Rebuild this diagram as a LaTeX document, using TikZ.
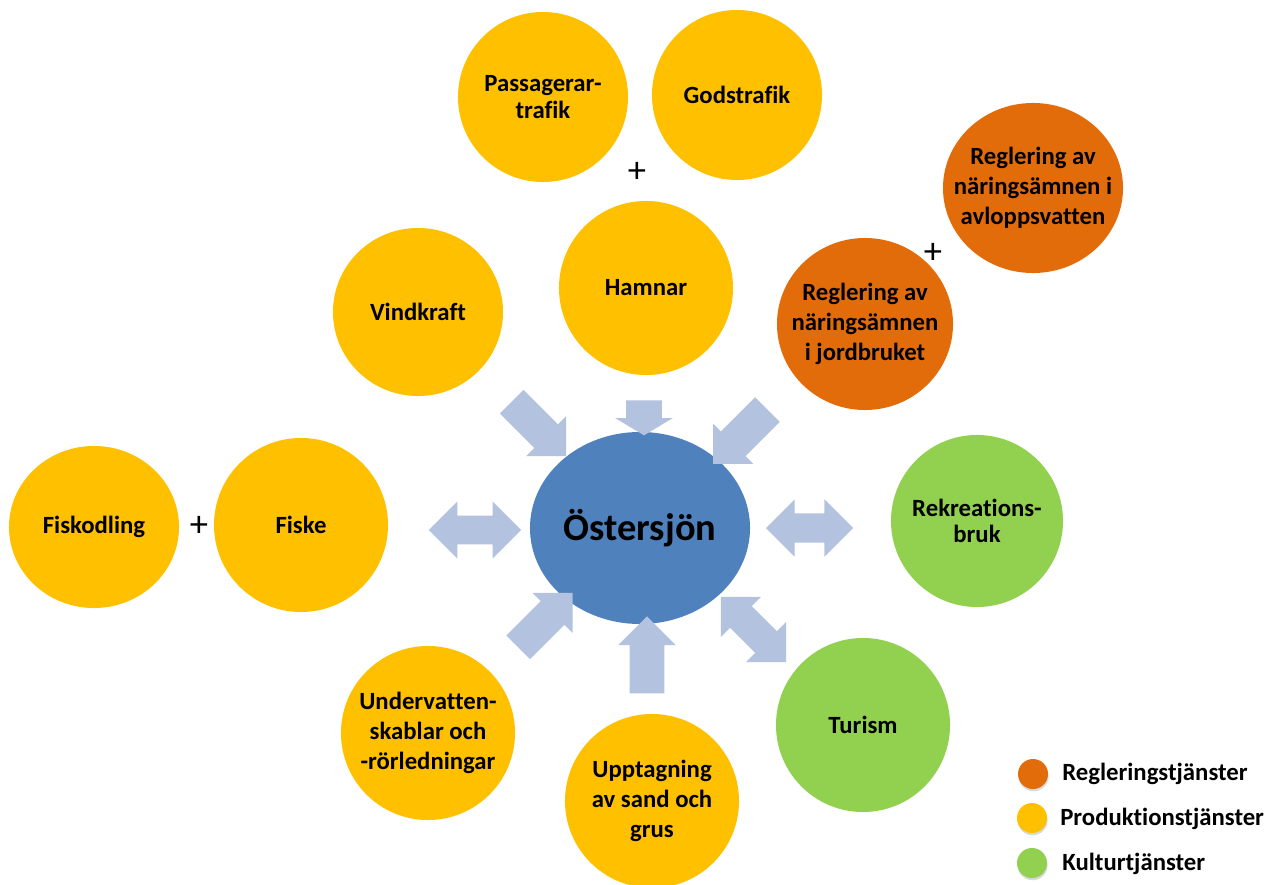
\documentclass[tikz,border=0pt]{standalone}
\usepackage{fontspec}
\setmainfont{Carlito}[Ligatures=NoCommon]
\usepackage{tikz}
\usetikzlibrary{positioning, shapes.geometric, shapes.arrows, shadows}

\definecolor{prodyellow}{HTML}{FFC000}
\definecolor{reglorange}{HTML}{E36C0A}
\definecolor{kultgreen}{HTML}{92D050}
\definecolor{seablue}{HTML}{4F81BD}
\definecolor{arrowblue}{HTML}{B3C2DE}

\tikzset{
  ball/.style={ellipse, inner sep=-0.5cm, align=center, text=black,
    font=\bfseries\fontsize{17.6}{21.4}\selectfont},
  twoline/.style={font=\bfseries\fontsize{17.6}{18.6}\selectfont},
  prod/.style={ball, fill=prodyellow},
  regl/.style={ball, fill=reglorange},
  kult/.style={ball, fill=kultgreen},
  plus/.style={inner sep=0pt, font=\fontsize{26}{26}\selectfont},
  inarrow/.style={single arrow, fill=arrowblue, inner xsep=0pt,
    single arrow tip angle=90},
  twoarrow/.style={double arrow, fill=arrowblue, inner xsep=0pt,
    double arrow tip angle=90},
  legdot/.style={circle, inner sep=0pt, minimum size=0.75cm,
    drop shadow={shadow xshift=0.4pt, shadow yshift=-1.6pt, opacity=0.3}},
  legtext/.style={anchor=west, inner sep=0pt,
    font=\bfseries\fontsize{17.6}{21.4}\selectfont}
}

\begin{document}
\begin{tikzpicture}[x=0.025cm, y=-0.025cm]

    \useasboundingbox[fill=white] (0,0) rectangle (1281,885);

    \node[prod, twoline,
    minimum width=4.25cm,
    minimum height=4.25cm] (pass) at (543,97) {Passagerar-\\trafik};

    \node[prod,
    minimum width=4.25cm,
    minimum height=4.25cm] (gods) at (737,95) {Godstrafik};

    \node[plus] (plushamn) at (637,172) {+};

    \node[prod,
    minimum width=4.35cm,
    minimum height=4.35cm] (hamn) at (646,288) {Hamnar};

    \node[prod,
    minimum width=4.25cm,
    minimum height=4.2cm] (vind) at (418,312) {Vindkraft};

    \node[regl,
    minimum width=4.5cm,
    minimum height=4.25cm] (avlopp) at (1033,188)
      {Reglering av\\näringsämnen i\\avloppsvatten};

    \node[plus] (plusregl) at (933,253) {+};

    \node[regl,
    minimum width=4.4cm,
    minimum height=4.3cm] (jord) at (865,324)
      {Reglering av\\näringsämnen\\i jordbruket};

    \node[ellipse, fill=seablue, inner sep=-0.5cm,
    minimum width=5.5cm,
    minimum height=4.8cm,
    font=\bfseries\fontsize{27.3}{30}\selectfont] (oster) at (640,528) {Östersjön};

    \node[prod,
    minimum width=4.25cm,
    minimum height=4.05cm] (fiskod) at (94,527) {Fiskodling};

    \node[plus] (plusfiske) at (199,526) {+};

    \node[prod,
    minimum width=4.35cm,
    minimum height=4.35cm] (fiske) at (301,525) {Fiske};

    \node[kult, twoline,
    minimum width=4.3cm,
    minimum height=4.3cm] (rekr) at (977,521) {Rekreations-\\bruk};

    \node[kult,
    minimum width=4.35cm,
    minimum height=4.35cm] (turism) at (863,725) {Turism};

    \node[prod,
    minimum width=4.35cm,
    minimum height=4.35cm] (under) at (428,733)
      {Undervatten-\\skablar och\\-rörledningar};

    \node[prod,
    minimum width=4.35cm,
    minimum height=4.35cm] (uppt) at (652,801)
      {Upptagning\\av sand och\\grus};

    \node[inarrow, rotate=-45,
    minimum height=1.925cm,
    inner ysep=0.41cm,
    single arrow head extend=0.29cm] (arrvind) at (533,423) {};

    \node[inarrow, rotate=-90,
    minimum height=0.875cm,
    inner ysep=0.4375cm,
    single arrow tip angle=118,
    single arrow head extend=0.275cm] (arrhamn) at (644,412.5) {};

    \node[inarrow, rotate=-135,
    minimum height=1.92cm,
    inner ysep=0.43cm,
    single arrow head extend=0.27cm] (arrjord) at (746.5,430.5) {};

    \node[twoarrow,
    minimum height=2.3cm,
    inner ysep=0.35cm,
    double arrow head extend=0.35cm] (arrfiske) at (475,530) {};

    \node[twoarrow,
    minimum height=2.175cm,
    inner ysep=0.36cm,
    double arrow head extend=0.35cm] (arrrekr) at (809.5,528) {};

    \node[inarrow, rotate=45,
    minimum height=1.92cm,
    inner ysep=0.41cm,
    single arrow head extend=0.29cm] (arrunder) at (539.5,626) {};

    \node[inarrow, rotate=90,
    minimum height=1.925cm,
    inner ysep=0.425cm,
    single arrow head extend=0.29cm] (arruppt) at (647,663.5) {};

    \node[twoarrow, rotate=-45,
    minimum height=2.3cm,
    inner ysep=0.375cm,
    double arrow head extend=0.325cm] (arrturism) at (753.5,629.5) {};

    \node[legdot, fill=reglorange] (dotregl) at (1033,774) {};
    \node[legdot, fill=prodyellow] (dotprod) at (1032,818) {};
    \node[legdot, fill=kultgreen] (dotkult) at (1032,863) {};

    \node[legtext] (txtregl) at (1062,774) {Regleringstjänster};
    \node[legtext] (txtprod) at (1060,819) {Produktionstjänster};
    \node[legtext] (txtkult) at (1062,864) {Kulturtjänster};

\end{tikzpicture}
\end{document}
